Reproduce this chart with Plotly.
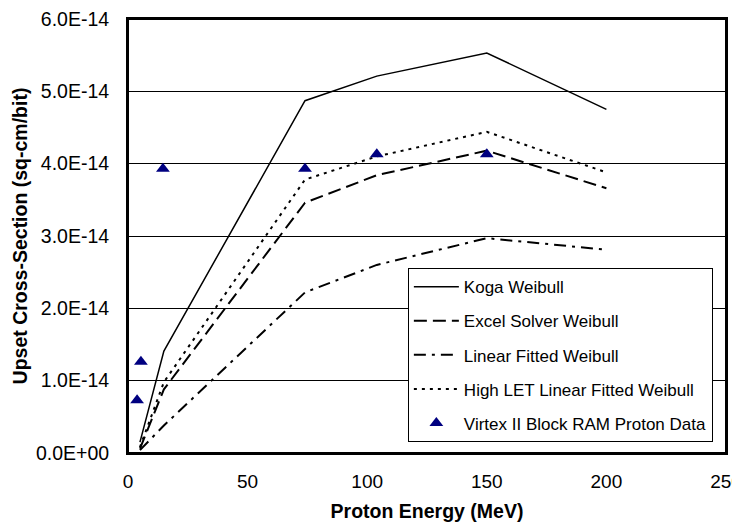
import plotly.graph_objects as go

energy = [5, 15, 74, 104, 150, 200]
koga = [0.15e-14, 1.41e-14, 4.87e-14, 5.21e-14, 5.53e-14, 4.75e-14]
excel_solver = [0.06e-14, 0.88e-14, 3.46e-14, 3.84e-14, 4.18e-14, 3.66e-14]
linear_fitted = [0.04e-14, 0.38e-14, 2.22e-14, 2.60e-14, 2.97e-14, 2.81e-14]
high_let = [0.08e-14, 0.98e-14, 3.78e-14, 4.10e-14, 4.44e-14, 3.88e-14]

data_energy = [3.8, 5.4, 14.6, 74, 104, 150]
data_xs = [0.73e-14, 1.26e-14, 3.93e-14, 3.93e-14, 4.13e-14, 4.13e-14]

x_ticks = [0, 50, 100, 150, 200, 250]
y_ticks = [0, 1e-14, 2e-14, 3e-14, 4e-14, 5e-14, 6e-14]
y_ticktext = ["0.0E+00", "1.0E-14", "2.0E-14", "3.0E-14", "4.0E-14", "5.0E-14", "6.0E-14"]

FONT = "Liberation Sans, Arial, sans-serif"

fig = go.Figure()
fig.add_trace(go.Scatter(x=energy, y=koga, mode="lines", name="Koga Weibull",
                         legendgroup="a",
                         line=dict(color="black", width=1.5, dash="solid")))
fig.add_trace(go.Scatter(x=energy, y=excel_solver, mode="lines", name="Excel Solver Weibull",
                         legendgroup="b",
                         line=dict(color="black", width=2, dash="13px,6px")))
fig.add_trace(go.Scatter(x=energy, y=linear_fitted, mode="lines", name="Linear Fitted Weibull",
                         legendgroup="c",
                         line=dict(color="black", width=2, dash="12px,6px,3px,6px")))
fig.add_trace(go.Scatter(x=energy, y=high_let, mode="lines", name="High LET Linear Fitted Weibull",
                         legendgroup="d",
                         line=dict(color="black", width=2, dash="3px,5px")))
fig.add_trace(go.Scatter(x=data_energy, y=data_xs, mode="markers", name="Virtex II Block RAM Proton Data",
                         legendgroup="e",
                         marker=dict(symbol="triangle-up", size=12, color="#000080")))

fig.update_layout(
    width=740, height=525,
    margin=dict(l=120, r=22, t=11, b=80, autoexpand=False),
    paper_bgcolor="white", plot_bgcolor="white",
    font=dict(family=FONT, color="black", size=17),
    showlegend=True,
    legend=dict(x=0.468, y=0.426, xanchor="left", yanchor="top",
                bgcolor="white", bordercolor="black", borderwidth=1,
                font=dict(family=FONT, size=17, color="black"),
                itemwidth=45, tracegroupgap=9),
    xaxis=dict(
        range=[0, 250], tickvals=x_ticks,
        showgrid=False, zeroline=False,
        showline=True, linecolor="black", linewidth=2, mirror=True,
        ticks="outside", ticklen=10, tickcolor="white", tickwidth=1,
        tickfont=dict(size=19),
        title=dict(text="<b>Proton Energy (MeV)</b>", font=dict(size=19.5), standoff=14),
    ),
    xaxis2=dict(
        range=[0, 250], overlaying="x", side="bottom", anchor="y",
        tickmode="linear", tick0=0, dtick=10,
        showticklabels=False, showgrid=False, zeroline=False, showline=False,
        ticks="inside", ticklen=5, tickcolor="black", tickwidth=1,
    ),
    yaxis=dict(
        range=[0, 6e-14], tickvals=y_ticks, ticktext=y_ticktext,
        ticklabeloverflow="allow",
        showgrid=True, gridcolor="black", gridwidth=1, zeroline=False,
        showline=True, linecolor="black", linewidth=2, mirror=True,
        ticks="outside", ticklen=13, tickcolor="white", tickwidth=1,
        tickfont=dict(size=19.5),
        title=dict(text="<b>Upset Cross-Section (sq-cm/bit)</b>", font=dict(size=19.5), standoff=3),
    ),
    shapes=[dict(type="rect", xref="paper", yref="paper", x0=0, y0=0, x1=1, y1=1,
                 line=dict(color="black", width=2), layer="above")],
)

fig.write_html("out.html")
